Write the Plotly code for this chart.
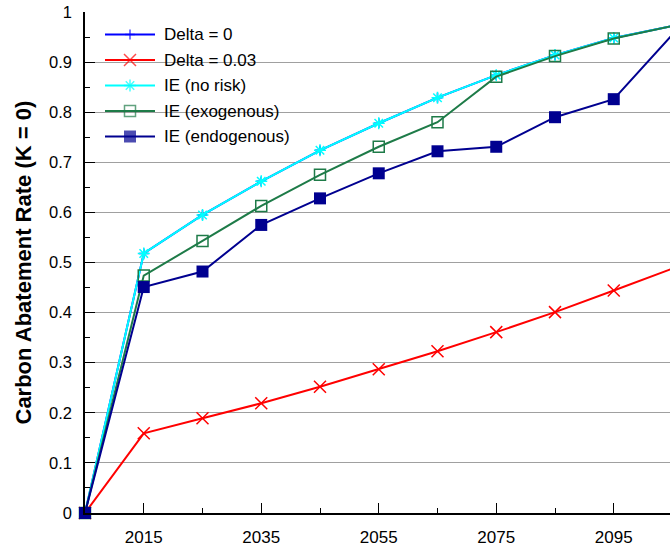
import plotly.graph_objects as go

# Simulation years and carbon abatement paths (K = 0)
years = [2005, 2015, 2025, 2035, 2045, 2055, 2065, 2075, 2085, 2095, 2105]
delta_0 = [0, 0.518, 0.595, 0.662, 0.724, 0.778, 0.829, 0.874, 0.914, 0.948, 0.972]
delta_003 = [0, 0.159, 0.189, 0.219, 0.252, 0.287, 0.323, 0.361, 0.401, 0.444, 0.488]
ie_no_risk = [0, 0.518, 0.595, 0.662, 0.724, 0.778, 0.829, 0.874, 0.914, 0.948, 0.972]
ie_exogenous = [0, 0.474, 0.543, 0.613, 0.675, 0.731, 0.780, 0.871, 0.912, 0.947, 0.972]
ie_endogenous = [0, 0.451, 0.482, 0.575, 0.628, 0.678, 0.722, 0.731, 0.790, 0.826, 0.955]

series_names = ["Delta = 0", "Delta = 0.03", "IE (no risk)", "IE (exogenous)", "IE (endogenous)"]
series_values = [delta_0, delta_003, ie_no_risk, ie_exogenous, ie_endogenous]
colors = ["#0000FF", "#FF0000", "#00FFFF", "#1E7B48", "#000090"]
symbols = ["cross-thin", "x-thin", "asterisk", "square-open", "square"]
sizes = [7, 12, 10, 11, 12]
marker_lw = [1.5, 1.5, 1.5, 1.5, 0]

FONT = "Arial, Liberation Sans, sans-serif"
W, H = 670, 549
ML, MR, MT, MB = 85, 0, 12, 36
PW, PH = W - ML - MR, H - MT - MB

fig = go.Figure()

for name, vals, c, s, sz, lw in zip(series_names, series_values, colors, symbols, sizes, marker_lw):
    mk = dict(symbol=s, size=sz, color=c, line=dict(color=c, width=lw))
    fig.add_trace(go.Scatter(
        x=years, y=vals, name=name, mode="lines+markers",
        line=dict(color=c, width=2), marker=mk,
        cliponaxis=False, showlegend=False,
    ))
    # final point sits just past the right edge: draw it clipped to the plot area
    fig.add_trace(go.Scatter(
        x=years[-1:], y=vals[-1:], mode="markers", marker=mk,
        cliponaxis=True, showlegend=False, hoverinfo="skip",
    ))

# Legend drawn on an overlay axis spanning the plot area in paper units
def px_x(p):
    return (p - ML) / PW

def px_y(p):
    return (H - MB - p) / PH

row0, row_step = 34.5, 25.5
for i, (name, c, s, sz, lw) in enumerate(zip(series_names, colors, symbols, sizes, marker_lw)):
    yy = px_y(row0 + i * row_step)
    fig.add_trace(go.Scatter(
        x=[px_x(105), px_x(130), px_x(155)], y=[yy, yy, yy],
        xaxis="x2", yaxis="y2", mode="lines+markers",
        line=dict(color=c, width=2),
        marker=dict(symbol=s, size=[0, sz, 0], color=c, line=dict(color=c, width=lw)),
        cliponaxis=False, showlegend=False, hoverinfo="skip",
    ))
    fig.add_annotation(
        x=px_x(162), y=yy, xref="x2", yref="y2", text=name, showarrow=False,
        xanchor="left", yanchor="middle", font=dict(family=FONT, size=17, color="#000"),
    )

fig.add_annotation(
    x=px_x(23), y=0.5, xref="paper", yref="paper", text="<b>Carbon Abatement Rate (K = 0)</b>",
    textangle=-90, showarrow=False, xanchor="center", yanchor="middle",
    font=dict(family=FONT, size=22, color="#000"),
)

fig.update_layout(
    width=W, height=H,
    margin=dict(l=ML, r=MR, t=MT, b=MB, pad=0),
    paper_bgcolor="white", plot_bgcolor="white",
    showlegend=False,
    xaxis=dict(
        range=[2005, 2005 + PW / 5.875],
        tickmode="linear", tick0=2015, dtick=20,
        ticks="inside", ticklen=10, tickwidth=1.3, tickcolor="#000",
        showline=True, linecolor="#000", linewidth=1.6,
        showgrid=False, zeroline=False,
        tickfont=dict(family=FONT, size=17, color="#000"),
        ticklabelstandoff=8,
        minor=dict(tickmode="linear", tick0=2005, dtick=10, ticks="inside", ticklen=5,
                   tickwidth=1.3, tickcolor="#000", showgrid=False),
    ),
    yaxis=dict(
        range=[0, 1],
        tickmode="linear", tick0=0, dtick=0.1,
        ticks="inside", ticklen=10, tickwidth=1.3, tickcolor="#000",
        showline=True, linecolor="#000", linewidth=1.6,
        showgrid=True, gridcolor="#a0a0a0", gridwidth=1.3, zeroline=False,
        tickfont=dict(family=FONT, size=16.5, color="#000"),
        ticklabelstandoff=8,
        minor=dict(tickmode="linear", tick0=0, dtick=0.05, ticks="inside", ticklen=5,
                   tickwidth=1.3, tickcolor="#000", showgrid=False),
    ),
    xaxis2=dict(overlaying="x", range=[0, 1], visible=False, fixedrange=True),
    yaxis2=dict(overlaying="y", range=[0, 1], visible=False, fixedrange=True),
)

fig.write_html("out.html")
